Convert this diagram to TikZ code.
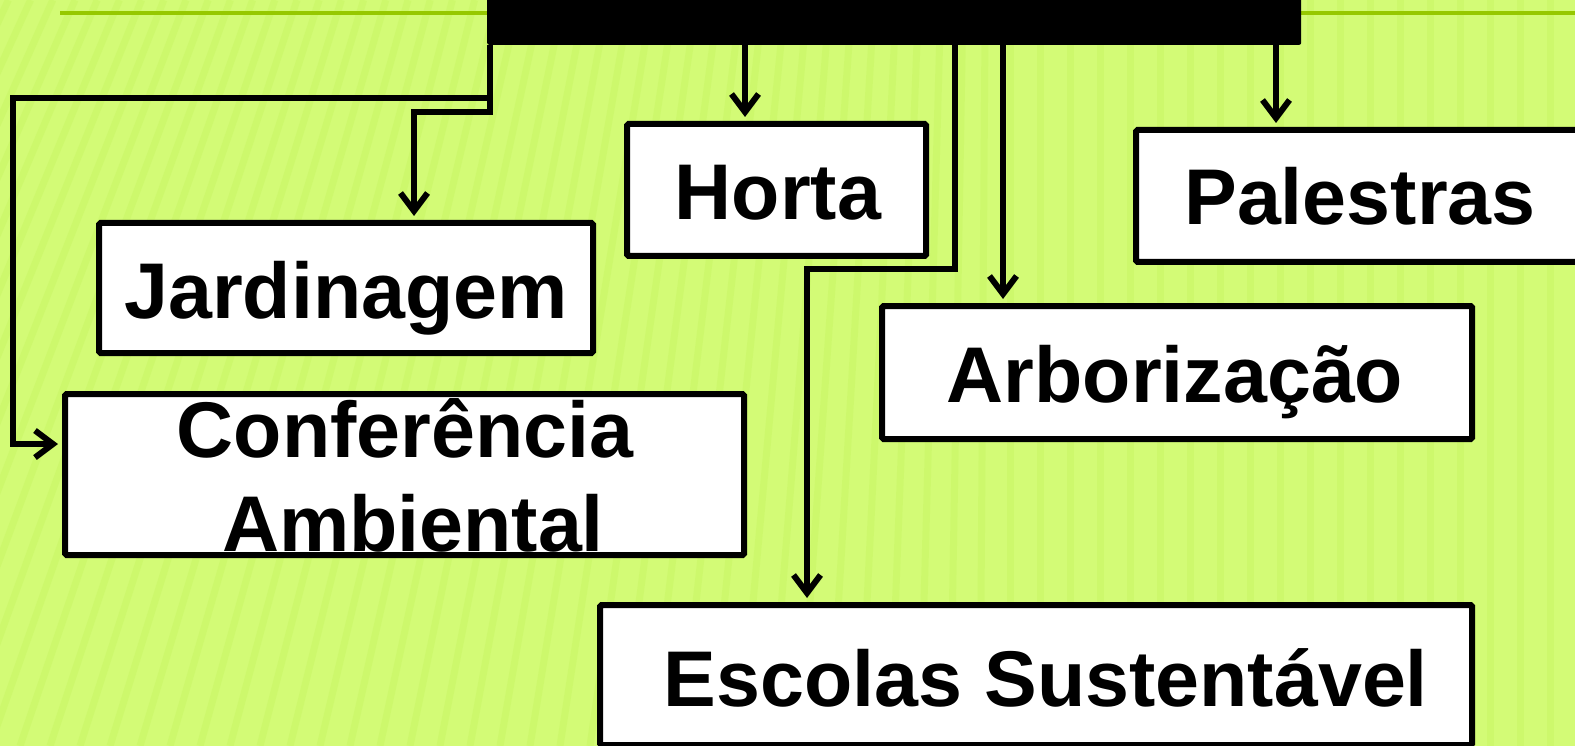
\documentclass[tikz,border=0pt]{standalone}
\usepackage{fontspec}
\setmainfont{Liberation Sans}
\usetikzlibrary{arrows.meta}
\definecolor{bg}{RGB}{211,251,118}
\definecolor{stripedark}{RGB}{192,242,88}
\definecolor{topline}{RGB}{150,200,0}
\tikzset{
  boxst/.style={draw=black, line width=6pt, fill=white, inner sep=0pt, rounded corners=1.5pt},
  txt/.style={font=\fontsize{79}{95}\selectfont\bfseries, inner sep=0pt, text=black},
  conn/.style={draw=black, line width=6pt, line join=miter},
  arr/.style={conn, shorten >=4pt, -{Straight Barb[length=18pt,width=27pt]}},
}
\begin{document}
\begin{tikzpicture}[x=1pt,y=-1pt]
\useasboundingbox (0,0) rectangle (1575,746);
\fill[bg] (0,0) rectangle (1575,746);
\begin{scope}
\clip (0,0) rectangle (1575,746);
\foreach \i in {-400,-370,...,1800} {
  \pgfmathsetmacro\off{max(0,260-0.26*\i)}
  \draw[stripedark, line width=7pt, opacity=0.3] (\i,746) -- (\i+\off,0);
}
\end{scope}
% thin top line
\draw[topline, line width=3.5pt] (60,13) -- (1575,13);
% black bar
\node[fill=black, draw=none, inner sep=0pt, minimum width=814, minimum height=60, rounded corners=2pt, anchor=south west] (bar) at (487,45) {};
% boxes
\node[boxst, minimum width=494, minimum height=130] (jard) at (346,288) {};
\node[boxst, minimum width=299, minimum height=132] (horta) at (776.5,190) {};
\node[boxst, minimum width=451, minimum height=132] (pal) at (1361.5,196) {};
\node[boxst, minimum width=590, minimum height=133] (arb) at (1177,372.5) {};
\node[boxst, minimum width=679, minimum height=161] (conf) at (404.5,474.5) {};
\node[boxst, minimum width=872, minimum height=140] (esc) at (1036,675) {};
% texts
\node[txt, anchor=base] (tjard) at (346,318) {Jardinagem};
\node[txt, anchor=base] (thorta) at (778,220) {Horta};
\node[txt, anchor=base] (tpal) at (1360,225) {Palestras};
\node[txt, anchor=base] (tarb) at (1175,402) {Arborização};
\node[txt, anchor=base] (tconf1) at (405,457) {Conferência};
\node[txt, anchor=base] (tconf2) at (413,551) {Ambiental};
\node[txt, anchor=base] (tesc) at (1046,706) {Escolas Sustentável};
% connector turning points
\coordinate (a1) at (490,98);
\coordinate (a2) at (13,98);
\coordinate (a3) at (13,444);
\coordinate (j1) at (490,112);
\coordinate (j2) at (414,112);
\coordinate (e1) at (955,269);
\coordinate (e2) at (807,269);
\coordinate (xh) at (745,0);
\coordinate (xa) at (1003,0);
\coordinate (xp) at (1276,0);
% connectors
\draw[arr] (bar.south -| a1) -- (a1) -- (a2) -- (a3) -- (a3 -| conf.west);
\draw[arr] (bar.south -| j1) -- (j1) -- (j2) -- (j2 |- jard.north);
\draw[arr] (bar.south -| xh) -- (xh |- horta.north);
\draw[arr] (bar.south -| e1) -- (e1) -- (e2) -- (e2 |- esc.north);
\draw[arr] (bar.south -| xa) -- (xa |- arb.north);
\draw[arr] (bar.south -| xp) -- (xp |- pal.north);
\end{tikzpicture}
\end{document}
